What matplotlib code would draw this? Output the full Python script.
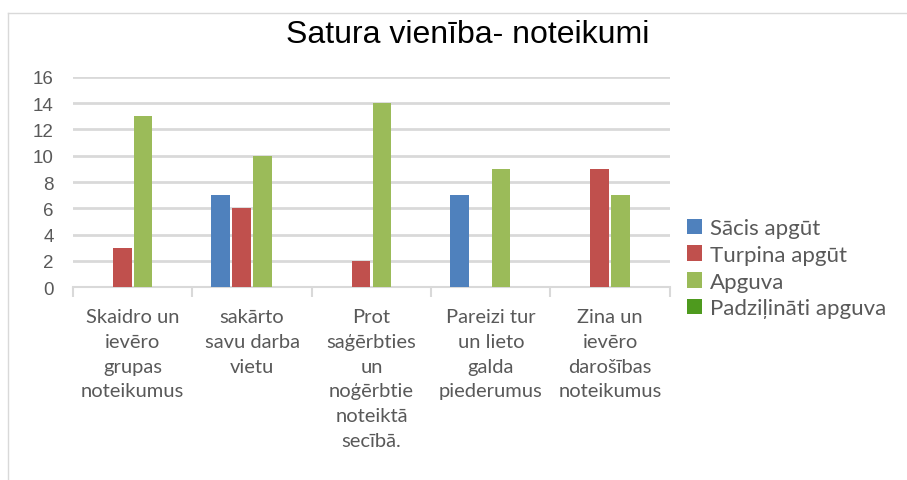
#!/usr/bin/env python3
"""Grouped bar chart: Satura vienība- noteikumi."""

import numpy as np
import matplotlib

matplotlib.use("Agg")
import matplotlib.pyplot as plt
from matplotlib.lines import Line2D

plt.rcParams.update(
    {
        "font.family": ["Lato", "DejaVu Sans"],
        "figure.facecolor": "white",
        "axes.facecolor": "white",
    }
)

categories = [
    "Skaidro un\nievēro\ngrupas\nnoteikumus",
    "sakārto\nsavu darba\nvietu",
    "Prot\nsaģērbties\nun\nnoģērbtie\nnoteiktā\nsecībā.",
    "Pareizi tur\nun lieto\ngalda\npiederumus",
    "Zina un\nievēro\ndarošības\nnoteikumus",
]
series_names = ["Sācis apgūt", "Turpina apgūt", "Apguva", "Padziļināti apguva"]
sacis = [0, 7, 0, 7, 0]
turpina = [3, 6, 2, 0, 9]
apguva = [13, 10, 14, 9, 7]
padzilinati = [0, 0, 0, 0, 0]
colors = ["#4F81BD", "#C0504D", "#9BBB59", "#4E9A1E"]

fig = plt.figure(figsize=(9.07, 4.81), dpi=100)
ax = fig.add_axes([0.0805, 0.401, 0.658, 0.437])

x = np.arange(len(categories))
width = 0.155
step = 0.175
handles = []
for i, (vals, name, c) in enumerate(
    zip([sacis, turpina, apguva, padzilinati], series_names, colors)
):
    h = ax.bar(x + (i - 1.5) * step, vals, width, color=c, label=name, zorder=3)
    handles.append(h)

ax.set_xlim(-0.5, len(categories) - 0.5)
ax.set_ylim(0, 16)
ax.set_yticks(range(0, 17, 2))
ax.yaxis.grid(True, color="#D9D9D9", linewidth=2, zorder=0)
ax.set_axisbelow(True)
for s in ["top", "right", "left"]:
    ax.spines[s].set_visible(False)
ax.spines["bottom"].set_color("#D9D9D9")
ax.spines["bottom"].set_linewidth(1.5)

# category boundary ticks
ax.set_xticks(np.arange(-0.5, len(categories), 1.0))
ax.set_xticklabels([])
ax.tick_params(axis="x", length=7, color="#D9D9D9", width=1.5)
ax.tick_params(axis="y", length=0, pad=14, labelsize=13.5, labelcolor="#595959")
for lab in ax.get_yticklabels():
    lab.set_family(["Liberation Sans", "DejaVu Sans"])

for xi, lab in zip(x, categories):
    ax.text(
        xi, -1.6, lab, ha="center", va="top", fontsize=14.5, color="#595959",
        linespacing=1.55,
    )

fig.text(
    0.516, 0.928, "Satura vienība- noteikumi", ha="center", va="center",
    fontsize=23, family=["Liberation Sans", "DejaVu Sans"], color="#000000",
)

fig.legend(
    handles=handles, labels=series_names, loc="center left",
    bbox_to_anchor=(0.757, 0.44), frameon=False, fontsize=16,
    handlelength=0.7, handleheight=0.7, handletextpad=0.35, labelspacing=0.3,
    labelcolor="#595959", borderaxespad=0, borderpad=0,
)

# outer chart border (top and left)
fig.add_artist(Line2D([8 / 907, 1], [1 - 14 / 481] * 2, color="#D9D9D9", lw=1))
fig.add_artist(Line2D([8 / 907] * 2, [0, 1 - 14 / 481], color="#D9D9D9", lw=1))

plt.savefig("out.png", dpi=100, facecolor="white")
plt.close(fig)
